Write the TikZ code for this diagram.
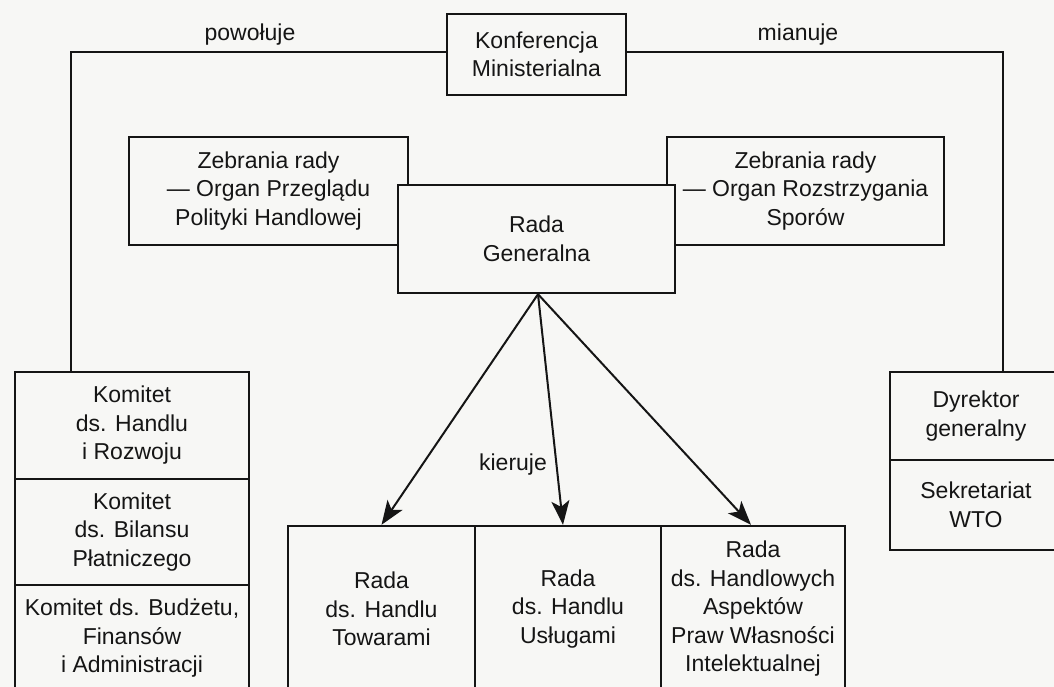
\documentclass[tikz,border=0pt]{standalone}
\usepackage{fontspec}
\setmainfont{Liberation Sans}
\usetikzlibrary{arrows.meta}
\definecolor{paper}{HTML}{F7F7F5}
\definecolor{ink}{HTML}{151515}
\begin{document}
\begin{tikzpicture}[x=1pt,y=-1pt,
  box/.style={draw=ink, line width=2.4pt, fill=paper, align=center, inner sep=0pt,
              font=\fontsize{23}{28.5}\selectfont, text=ink},
  lbl/.style={font=\fontsize{23}{28}\selectfont, text=ink, inner sep=0pt},
  conn/.style={draw=ink, line width=2.4pt},
  arr/.style={draw=ink, line width=2pt, -{Stealth[length=24pt,width=18pt,inset=6pt]}}]
\fill[paper] (0,0) rectangle (1054,687);
\useasboundingbox (0,0) rectangle (1054,687);
\clip (0,0) rectangle (1054,687);

% top
\node[box, minimum width=179pt, minimum height=81pt] (konf) at (536.5,54.5) {Konferencja\\Ministerialna};
\node[lbl] (pow) at (250,35) {powołuje};
\node[lbl] (mia) at (798,35) {mianuje};

% councils
\node[box, minimum width=279pt, minimum height=108pt] (zl) at (268.5,191) {Zebrania rady\\— Organ Przeglądu\\Polityki Handlowej};
\node[box, minimum width=277pt, minimum height=108pt] (zr) at (805.5,191) {Zebrania rady\\— Organ Rozstrzygania\\Sporów};
\node[box, minimum width=277pt, minimum height=108pt] (rg) at (536.5,239) {Rada\\Generalna};

% left committees
\node[box, minimum width=234pt, minimum height=107pt] (k1) at (132,425.5) {Komitet\\ds. Handlu\\i Rozwoju};
\node[box, minimum width=234pt, minimum height=106pt] (k2) at (132,532) {Komitet\\ds. Bilansu\\Płatniczego};
\node[box, minimum width=234pt, minimum height=107pt] (k3) at (132,638.5) {Komitet ds. Budżetu,\\Finansów\\i Administracji};

% right: director, secretariat
\node[box, minimum width=172pt, minimum height=88pt] (dyr) at (976,416) {Dyrektor\\generalny};
\node[box, minimum width=172pt, minimum height=90pt] (sek) at (976,505) {Sekretariat\\WTO};

% bottom councils
\node[box, minimum width=187pt, minimum height=166pt] (tow) at (381.5,609) {Rada\\ds. Handlu\\Towarami};
\node[box, minimum width=186pt, minimum height=166pt] (usl) at (568,609) {Rada\\ds. Handlu\\Usługami};
\node[box, minimum width=184pt, minimum height=166pt] (hand) at (753,609) {Rada\\ds. Handlowych\\Aspektów\\Praw Własności\\Intelektualnej};

\node[lbl] (kie) at (513,465) {kieruje};

% connectors
\coordinate (L) at (71,52);
\coordinate (R) at (1003,52);
\draw[conn] (konf.west |- L) -- (L) -- (L |- k1.north);
\draw[conn] (konf.east |- R) -- (R) -- (R |- dyr.north);

\draw[arr] ([xshift=1.5pt]rg.south) -- (tow.north);
\draw[arr] ([xshift=1.5pt]rg.south) -- ([xshift=-5pt]usl.north);
\draw[arr] ([xshift=1.5pt]rg.south) -- ([xshift=-2pt]hand.north);
\end{tikzpicture}
\end{document}
